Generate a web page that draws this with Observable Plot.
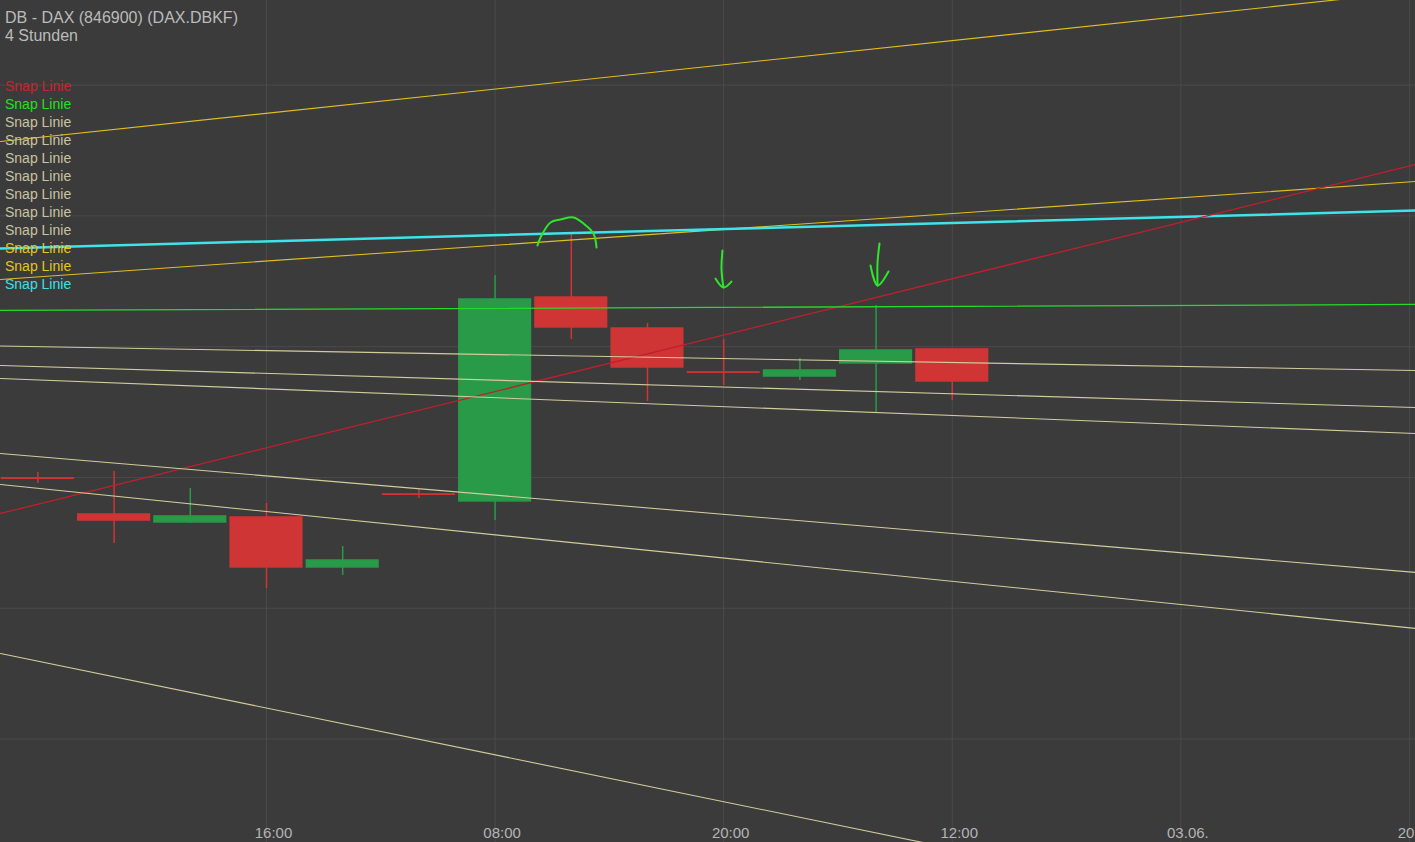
<!DOCTYPE html>
<html>
<head>
<meta charset="utf-8">
<script src="https://cdn.jsdelivr.net/npm/d3@7"></script>
<script src="https://cdn.jsdelivr.net/npm/@observablehq/plot@0.6"></script>
<style>
  html, body { margin: 0; padding: 0; background: #3b3b3b; overflow: hidden; }
  #wrap { position: relative; width: 1415px; height: 842px; }
  #title { position: absolute; left: 5px; top: 9px; font: 16px "Liberation Sans", Arial, sans-serif; color: #bbbbbb; line-height: 18px; }
  #legend { position: absolute; left: 5px; top: 77px; font: 14px "Liberation Sans", Arial, sans-serif; line-height: 18px; }
</style>
</head>
<body>
<div id="wrap">
  <div id="chart"></div>
  <div id="title"></div>
  <div id="legend"></div>
</div>
<script>
// ---- Kerzen (4-Stunden), Index = Kerzenposition ----
const candleIdx = [0, 1, 2, 3, 4, 5, 6, 7, 8, 9, 10, 11, 12];
const openVals  = [9.9993, 9.9717, 9.9656, 9.9694, 9.9312, 9.9870, 9.9817, 10.1376, 10.1139, 10.0803, 10.0772, 10.0872, 10.0979];
const highVals  = [10.0038, 10.0046, 9.9916, 9.9801, 9.9472, 9.9908, 10.1544, 10.1873, 10.1177, 10.1055, 10.0910, 10.1315, 10.0979];
const lowVals   = [9.9954, 9.9495, 9.9648, 9.9151, 9.9251, 9.9839, 9.9671, 10.1055, 10.0581, 10.0703, 10.0742, 10.0489, 10.0589];
const closeVals = [9.9990, 9.9671, 9.9702, 9.9312, 9.9365, 9.9868, 10.1361, 10.1147, 10.0841, 10.0801, 10.0818, 10.0971, 10.0734];

// ---- Achse ----
const tickIdx    = [3, 6, 9, 12, 15, 18];
const tickLabels = ["16:00", "08:00", "20:00", "12:00", "03.06.", "20:00"];
const priceGrid  = [9.8, 9.9, 10.0, 10.1, 10.2, 10.3];
const xDomain    = [-0.4908, 18.079];
const yDomain    = [9.7209, 10.3647];

// ---- Snap Linien (Anfangs-/Endpunkt) ----
const snapType     = ["gold", "gold", "cyan", "rot", "grün", "hell", "hell", "hell", "hell", "hell", "hell"];
const snapStartIdx = [-0.4908, -0.4908, -0.4908, -0.4908, -0.4908, -0.4908, -0.4908, -0.4908, -0.4908, -0.4908, -0.4908];
const snapEndIdx   = [18.079, 18.079, 18.079, 18.079, 18.079, 18.079, 18.079, 18.079, 18.079, 18.079, 18.079];
const snapStart    = [10.2569, 10.1514, 10.1751, 9.9725, 10.1277, 10.1005, 10.0856, 10.0757, 10.0183, 9.9946, 9.8654];
const snapEnd      = [10.3716, 10.2263, 10.2041, 10.2393, 10.1323, 10.0818, 10.0535, 10.0336, 9.9274, 9.8846, 9.6437];

// ---- Legende ----
const legendTypes = ["rot", "grün", "hell", "hell", "hell", "hell", "hell", "hell", "hell", "gold", "gold", "cyan"];
const legendText  = "Snap Linie";

// ---- Handzeichnungen (grün) ----
const annotGroup = ["bogen","bogen","bogen","bogen","bogen","bogen","bogen","bogen",
                    "pfeil1","pfeil1","pfeil1","kopf1","kopf1","kopf1",
                    "pfeil2","pfeil2","pfeil2","kopf2","kopf2","kopf2"];
const annotIdx   = [6.556, 6.596, 6.727, 6.858, 7.029, 7.160, 7.291, 7.331,
                    8.984, 8.971, 8.997, 8.892, 8.997, 9.102,
                    11.045, 11.019, 11.019, 10.927, 11.019, 11.163];
const annotVal   = [10.1774, 10.1835, 10.1950, 10.1972, 10.1988, 10.1942, 10.1865, 10.1758,
                    10.1735, 10.1598, 10.1453, 10.1521, 10.1453, 10.1498,
                    10.1789, 10.1644, 10.1468, 10.1621, 10.1468, 10.1575];

const title1 = "DB - DAX (846900) (DAX.DBKF)";
const title2 = "4 Stunden";

// ---- Tabellen ----
const candles = candleIdx.map((i, k) => ({
  i, open: openVals[k], high: highVals[k], low: lowVals[k], close: closeVals[k],
  dir: closeVals[k] >= openVals[k] ? "up" : "down"
}));
const snaps = snapType.flatMap((t, k) => [
  {id: k, type: t, i: snapStartIdx[k], v: snapStart[k]},
  {id: k, type: t, i: snapEndIdx[k], v: snapEnd[k]}
]);
const annots = annotGroup.map((g, k) => ({g, i: annotIdx[k], v: annotVal[k]}));
const ticks = tickIdx.map((i, k) => ({i, label: tickLabels[k]}));

const typeColor = {rot: "#c21f2d", "grün": "#27d92a", hell: "#d2cc9c", gold: "#e2bf1c", cyan: "#3fe3ec"};
const legendColor = {rot: "#c8242c", "grün": "#22e022", hell: "#c9c4a0", gold: "#e6c51e", cyan: "#3de0ea"};
const dirColor = {up: "#289a48", down: "#cf3535"};
const halfBody = 0.47;

const chart = Plot.plot({
  width: 1415,
  height: 842,
  margin: 0,
  style: {background: "#3b3b3b", overflow: "hidden"},
  x: {type: "linear", domain: xDomain, axis: null},
  y: {type: "linear", domain: yDomain, axis: null},
  marks: [
    Plot.ruleX(tickIdx, {x: d => d, stroke: "#4b4b4b", strokeWidth: 1}),
    Plot.ruleY(priceGrid, {y: d => d, stroke: "#4b4b4b", strokeWidth: 1}),
    Plot.ruleX(candles, {x: "i", y1: "low", y2: "high", stroke: d => dirColor[d.dir], strokeWidth: 1.5}),
    Plot.rect(candles, {
      x1: d => d.i - halfBody, x2: d => d.i + halfBody,
      y1: "open", y2: "close",
      fill: d => dirColor[d.dir], stroke: d => dirColor[d.dir], strokeWidth: 1.5
    }),
    Plot.line(snaps, {
      x: "i", y: "v", z: "id", clip: true,
      stroke: d => typeColor[d.type],
      strokeWidth: d => d.type === "cyan" ? 2.5 : (d.type === "rot" || d.type === "grün" ? 1.3 : 1.1)
    }),
    Plot.line(annots, {x: "i", y: "v", z: "g", stroke: "#2ee62a", strokeWidth: 2, curve: "catmull-rom", strokeLinecap: "round", strokeLinejoin: "round"}),
    Plot.text(ticks, {
      x: "i", text: "label", frameAnchor: "bottom", lineAnchor: "bottom", dx: 7, dy: -5,
      fill: "#b4b4b4", fontSize: 15, fontFamily: "Liberation Sans, Arial, sans-serif"
    })
  ]
});
document.getElementById("chart").appendChild(chart);

document.getElementById("title").innerHTML = title1 + "<br>" + title2;
document.getElementById("legend").innerHTML = legendTypes
  .map(t => `<div style="color:${legendColor[t]}">${legendText}</div>`).join("");
</script>
</body>
</html>
